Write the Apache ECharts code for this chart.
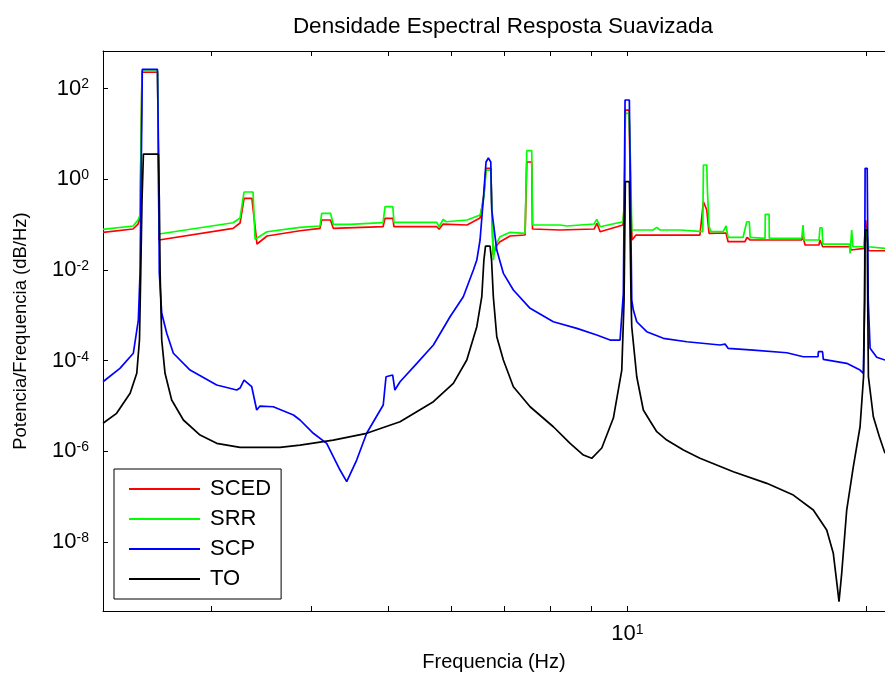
<!DOCTYPE html>
<html><head><meta charset="utf-8">
<script src="https://cdn.jsdelivr.net/npm/echarts@6/dist/echarts.min.js"></script>
<style>html,body{margin:0;padding:0;background:#fff}#c{width:885px;height:675px}</style>
</head><body><div id="c"></div>
<script>
const titleText = 'Densidade Espectral Resposta Suavizada';
const xName = 'Frequencia (Hz)';
const yName = 'Potencia/Frequencia (dB/Hz)';
const seriesNames = ['SCED', 'SRR', 'SCP', 'TO'];
const seriesColors = ['#ff0000', '#00ff00', '#0000ff', '#000000'];
const xRange = [2.19, 21.09];
const yRange = [3.03e-10, 675];
const xTickValues = [3, 4, 5, 6, 7, 8, 9, 10, 20];
const xLabelValues = [10];
const yTickValues = [1e-8, 1e-6, 1e-4, 1e-2, 1, 100];

// [frequency Hz, PSD]
const sced = [
[2.190,0.0678],[2.389,0.0802],[2.424,0.1033],[2.438,0.140],[2.452,232],[2.565,232],[2.576,0.0459],[2.584,0.0436],
[3.192,0.0831],[3.257,0.1087],[3.295,0.381],[3.371,0.381],[3.421,0.0374],[3.522,0.0562],[3.875,0.0735],
[4.106,0.0831],[4.126,0.1266],[4.233,0.1266],[4.267,0.0831],[4.928,0.0901],[4.957,0.138],[5.071,0.138],[5.086,0.0901],
[5.758,0.0901],[5.796,0.0790],[5.865,0.1033],[6.285,0.0982],[6.527,0.140],[6.600,0.450],[6.641,1.75],[6.733,1.75],
[6.778,0.0214],[6.857,0.0356],[6.916,0.0421],[7.120,0.0562],[7.436,0.0591],[7.473,2.41],[7.581,2.41],[7.598,0.0802],
[8.229,0.0762],[9.081,0.0802],[9.158,0.1071],[9.241,0.0699],[9.876,0.0982],[9.919,0.350],[9.942,33.7],[10.049,33.7],
[10.093,0.350],[10.137,0.0459],[10.255,0.0591],[12.34,0.0591],[12.464,0.321],[12.587,0.210],[12.671,0.0645],
[13.310,0.0655],[13.387,0.0421],[14.06,0.0421],[14.14,0.0526],[14.27,0.0459],[16.570,0.0459],[16.633,0.0562],
[16.729,0.0356],[17.42,0.0356],[17.47,0.0459],[17.61,0.0326],[19.06,0.0326],[19.11,0.0276],[19.85,0.0301],
[19.94,0.1266],[20.03,0.1266],[20.11,0.0266],[21.09,0.0266]
];
const srr = [
[2.190,0.0790],[2.389,0.0934],[2.424,0.1266],[2.438,0.163],[2.452,244],[2.565,244],[2.576,0.0622],
[3.192,0.1104],[3.257,0.140],[3.295,0.525],[3.382,0.525],[3.402,0.0475],[3.421,0.0508],[3.522,0.0699],[3.875,0.0874],
[4.106,0.0934],[4.126,0.178],[4.233,0.178],[4.267,0.1018],[4.479,0.1018],[4.492,0.1104],[4.928,0.1104],[4.957,0.249],
[5.071,0.249],[5.086,0.1127],[5.758,0.1127],[5.796,0.0901],[5.865,0.131],[5.917,0.1161],[6.285,0.1266],[6.527,0.163],
[6.584,0.296],[6.622,0.748],[6.641,1.60],[6.733,1.60],[6.783,0.0166],[6.817,0.0326],[6.916,0.0542],[7.120,0.0678],
[7.436,0.0645],[7.473,4.27],[7.581,4.27],[7.598,0.0982],[8.229,0.0982],[8.399,0.0934],[9.081,0.1033],[9.152,0.131],
[9.241,0.0901],[9.876,0.1161],[9.919,0.350],[9.942,28.5],[10.049,28.5],[10.099,1.60],[10.128,0.0762],[10.773,0.0762],
[10.889,0.0874],[10.99,0.0762],[11.65,0.0762],[11.685,0.0699],[12.442,0.0699],[12.464,2.07],[12.587,2.07],[12.609,0.581],
[12.671,0.0901],[12.744,0.0699],[13.195,0.0699],[13.310,0.0934],[13.387,0.0526],[13.981,0.0526],[14.132,0.1161],
[14.239,0.1161],[14.27,0.0526],[14.901,0.0500],[14.911,0.169],[15.075,0.169],[15.085,0.0500],[16.570,0.0500],
[16.633,0.0982],[16.68,0.0459],[17.42,0.0459],[17.47,0.0856],[17.573,0.0856],[17.61,0.0374],[19.02,0.0374],
[19.06,0.0233],[19.152,0.0762],[19.22,0.0326],[19.85,0.0326],[19.94,0.0831],[20.03,0.0831],[20.11,0.0326],[21.09,0.0301]
];
const scp = [
[2.190,3.44e-5],[2.300,6.80e-5],[2.391,1.46e-4],[2.426,7.90e-4],[2.438,8.59e-3],[2.448,4.43],[2.454,266.5],
[2.564,266.5],[2.572,4.43],[2.578,8.59e-3],[2.596,1.11e-3],[2.634,4.02e-4],[2.685,1.46e-4],[2.818,6.23e-5],
[3.044,2.91e-5],[3.226,2.26e-5],[3.257,2.50e-5],[3.295,3.75e-5],[3.369,2.67e-5],[3.418,8.18e-6],[3.451,1.0e-5],
[3.586,9.67e-6],[3.802,6.35e-6],[3.875,4.93e-6],[4.027,2.51e-6],[4.186,1.51e-6],[4.267,7.64e-7],[4.351,3.89e-7],
[4.436,2.15e-7],[4.566,6.46e-7],[4.700,2.51e-6],[4.931,1.054e-5],[4.971,4.44e-5],[5.068,4.84e-5],[5.100,2.26e-5],
[5.177,3.44e-5],[5.435,8.76e-5],[5.702,2.22e-4],[5.984,9.34e-4],[6.218,2.58e-3],[6.402,1.0e-2],[6.466,0.0166],
[6.527,0.0459],[6.588,0.350],[6.641,2.41],[6.686,2.95],[6.733,2.41],[6.752,0.210],[6.851,0.0276],[6.983,8.46e-3],
[7.188,3.62e-3],[7.545,1.43e-3],[8.070,7.24e-4],[8.639,5.18e-4],[9.152,3.69e-4],[9.513,2.86e-4],[9.791,2.86e-4],
[9.885,3.06e-3],[9.934,56.1],[10.058,56.1],[10.128,2.18e-3],[10.175,1.31e-3],[10.276,7.24e-4],[10.578,4.36e-4],
[11.099,3.12e-4],[11.879,2.62e-4],[13.08,2.22e-4],[13.271,2.33e-4],[13.337,2.49e-4],[13.387,1.88e-4],[14.405,1.72e-4],
[15.868,1.50e-4],[16.647,1.225e-4],[17.371,1.225e-4],[17.39,1.58e-4],[17.60,1.58e-4],[17.64,1.07e-4],[18.876,8.76e-5],
[19.62,6.23e-5],[19.81,5.28e-5],[19.88,2.18e-3],[19.91,1.75],[20.03,1.75],[20.09,2.18e-3],[20.20,1.88e-4],
[20.59,1.19e-4],[21.09,1.036e-4]
];
const to = [
[2.190,4.17e-6],[2.278,6.92e-6],[2.369,1.91e-5],[2.415,5.28e-5],[2.434,2.86e-4],[2.443,8.59e-3],[2.452,0.350],
[2.462,3.61],[2.571,3.61],[2.578,0.350],[2.584,8.59e-3],[2.596,2.86e-4],[2.621,5.28e-5],[2.672,1.36e-5],
[2.764,4.93e-6],[2.901,2.30e-6],[3.044,1.51e-6],[3.257,1.23e-6],[3.657,1.23e-6],[3.875,1.38e-6],[4.267,1.78e-6],
[4.700,2.51e-6],[5.177,4.52e-6],[5.702,1.247e-5],[6.041,3.17e-5],[6.281,1.036e-4],[6.466,5.62e-4],[6.560,2.58e-3],
[6.600,0.0166],[6.631,0.0338],[6.718,0.0338],[6.748,0.0166],[6.783,2.58e-3],[6.851,3.38e-4],[6.983,1.036e-4],
[7.188,2.67e-5],[7.545,9.67e-6],[8.070,3.50e-6],[8.472,1.51e-6],[8.805,8.33e-7],[9.020,7.05e-7],[9.286,1.19e-6],
[9.603,5.45e-6],[9.840,6.23e-5],[9.905,2.18e-3],[9.942,0.885],[10.058,0.885],[10.108,2.18e-3],[10.128,5.62e-4],
[10.276,4.44e-5],[10.474,8.18e-6],[10.68,4.68e-6],[10.889,2.72e-6],[11.209,1.78e-6],[11.763,1.07e-6],[12.34,7.05e-7],
[13.594,3.57e-7],[14.975,1.98e-7],[16.172,1.09e-7],[17.136,5.10e-8],[17.814,1.85e-8],[18.157,5.66e-9],[18.368,1.04e-9],
[18.459,4.85e-10],[18.604,2.05e-9],[18.876,5.10e-8],[19.242,4.60e-7],[19.62,3.50e-6],[19.82,4.44e-5],[19.88,2.18e-3],
[19.91,0.0762],[20.03,0.0762],[20.06,2.18e-3],[20.10,4.44e-5],[20.39,5.82e-6],[20.75,2.11e-6],[21.09,9.08e-7]
];
const seriesData = [sced, srr, scp, to];

const FONT = 'Liberation Sans, Arial, sans-serif';
const chart = echarts.init(document.getElementById('c'), null, {renderer: 'canvas'});
const supFmt = function (v) {
  const e = Math.round(Math.log10(v));
  return '{b|10}{s|' + e + '}';
};
const supRich = {
  b: {fontSize: 22, fontFamily: FONT, color: '#000', verticalAlign: 'bottom'},
  s: {fontSize: 14, fontFamily: FONT, color: '#000', verticalAlign: 'top'}
};
const axisCommon = {
  axisLine: {show: true, onZero: false, lineStyle: {color: '#000', width: 1}},
  splitLine: {show: false},
  minorTick: {show: false}
};
const option = {
  animation: false,
  backgroundColor: '#fff',
  title: {
    text: titleText, left: 498, top: 10, textAlign: 'center',
    textStyle: {fontFamily: FONT, fontSize: 22.5, fontWeight: 'normal', color: '#000'}
  },
  grid: {left: 103, top: 51, right: 0, bottom: 64, containLabel: false, outerBoundsMode: 'none'},
  legend: {
    orient: 'vertical', left: 114, top: 469,
    data: seriesNames,
    icon: 'rect', itemWidth: 71, itemHeight: 2, itemGap: 8,
    padding: [9, 10, 9, 15],
    borderColor: '#000', borderWidth: 1, backgroundColor: '#fff',
    textStyle: {fontFamily: FONT, fontSize: 22, color: '#000', lineHeight: 20, height: 20, padding: [0, 0, 0, 5]},
    selectedMode: false
  },
  xAxis: [
    Object.assign({}, axisCommon, {
      type: 'log', min: xRange[0], max: xRange[1], position: 'bottom',
      name: xName, nameLocation: 'middle', nameGap: 41,
      nameTextStyle: {fontFamily: FONT, fontSize: 20, color: '#000'},
      axisTick: {show: true, inside: true, length: 5, customValues: xTickValues, lineStyle: {color: '#000'}},
      axisLabel: {show: true, margin: 12, customValues: xLabelValues, formatter: supFmt, rich: supRich}
    }),
    Object.assign({}, axisCommon, {
      type: 'log', min: xRange[0], max: xRange[1], position: 'top',
      axisTick: {show: true, inside: true, length: 5, customValues: xTickValues, lineStyle: {color: '#000'}},
      axisLabel: {show: false}
    })
  ],
  yAxis: [
    Object.assign({}, axisCommon, {
      type: 'log', min: yRange[0], max: yRange[1], position: 'left',
      name: yName, nameLocation: 'middle', nameGap: 73, nameRotate: 90,
      nameTextStyle: {fontFamily: FONT, fontSize: 18.5, color: '#000'},
      axisTick: {show: true, inside: true, length: 5, customValues: yTickValues, lineStyle: {color: '#000'}},
      axisLabel: {show: true, margin: 14, customValues: yTickValues, formatter: supFmt, rich: supRich}
    })
  ],
  series: seriesNames.map(function (n, i) {
    return {
      name: n, type: 'line', xAxisIndex: 0, yAxisIndex: 0,
      data: seriesData[i], showSymbol: false, symbol: 'none',
      lineStyle: {color: seriesColors[i], width: 1.7},
      itemStyle: {color: seriesColors[i]},
      clip: true, z: 2 + i
    };
  })
};
chart.setOption(option);
</script>
</body></html>
